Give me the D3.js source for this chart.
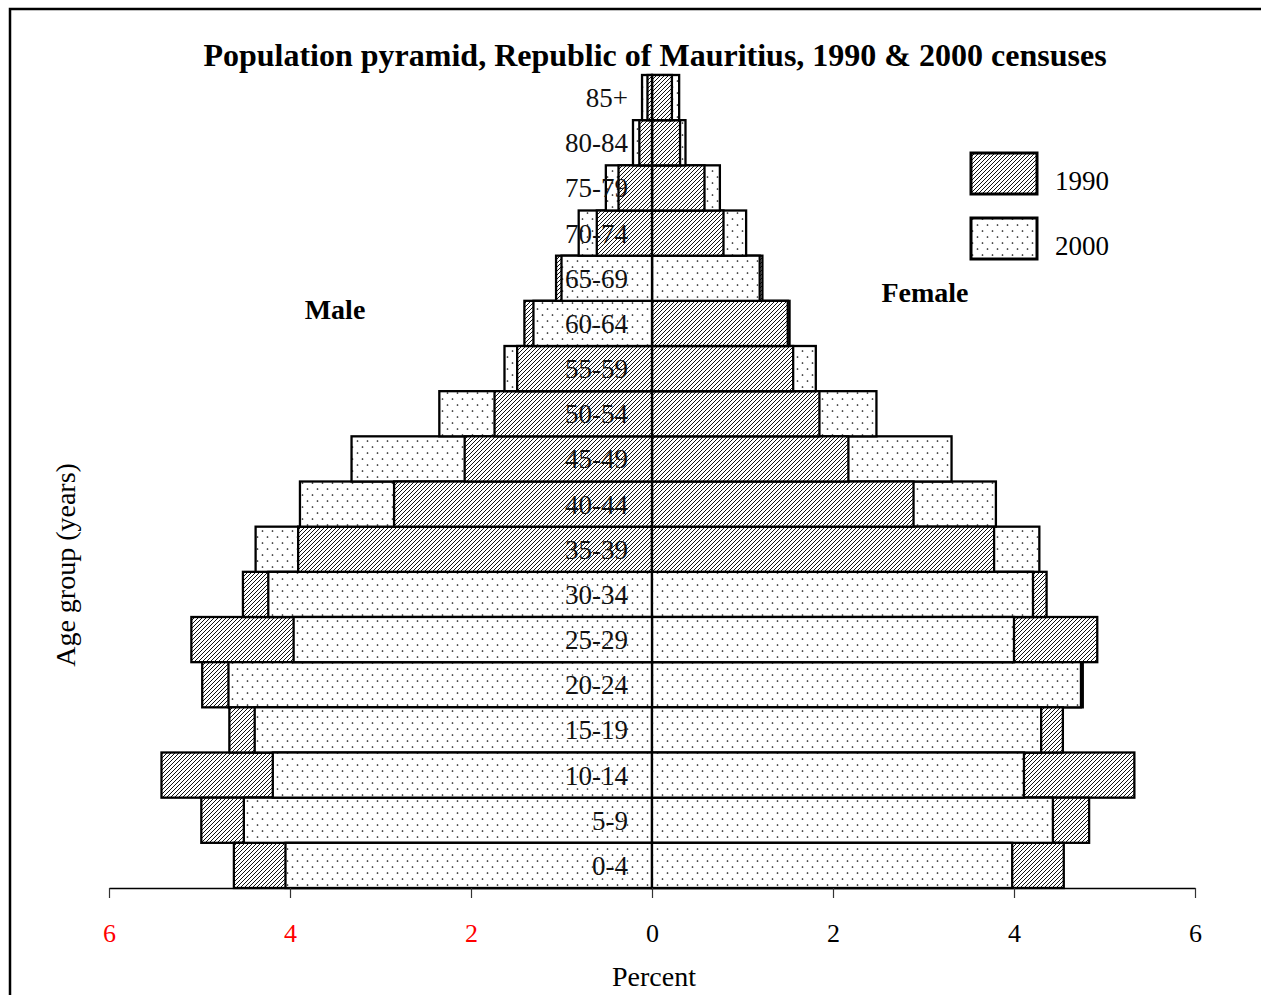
<!DOCTYPE html>
<html>
<head>
<meta charset="utf-8">
<script src="https://cdn.jsdelivr.net/npm/d3@7/dist/d3.min.js"></script>
<style>
  html, body { margin: 0; padding: 0; background: #fff; }
  svg { display: block; font-family: "Liberation Serif", "Times New Roman", serif; }
</style>
</head>
<body>
<svg id="chart" width="1261" height="995"></svg>
<script>
const ages = ["0-4","5-9","10-14","15-19","20-24","25-29","30-34","35-39","40-44","45-49","50-54","55-59","60-64","65-69","70-74","75-79","80-84","85+"];
const male1990   = [4.62,4.98,5.42,4.67,4.97,5.09,4.52,3.91,2.85,2.07,1.74,1.49,1.41,1.06,0.61,0.37,0.14,0.05];
const male2000   = [4.05,4.51,4.19,4.39,4.68,3.96,4.24,4.38,3.89,3.32,2.35,1.63,1.31,1.00,0.81,0.51,0.21,0.11];
const female1990 = [4.55,4.83,5.33,4.54,4.76,4.92,4.36,3.78,2.89,2.17,1.85,1.56,1.50,1.22,0.79,0.58,0.31,0.22];
const female2000 = [3.98,4.43,4.11,4.30,4.74,4.00,4.21,4.28,3.80,3.31,2.48,1.81,1.52,1.19,1.04,0.75,0.37,0.30];
const tickValues = [-6,-4,-2,0,2,4,6];
const years = ["1990","2000"];

const svg = d3.select("#chart");

// frame
svg.append("rect").attr("x",10).attr("y",9).attr("width",1300).attr("height",1100)
  .attr("fill","none").attr("stroke","#000").attr("stroke-width",2.5);

// patterns
const defs = svg.append("defs");
const hatch = defs.append("pattern").attr("id","hatch").attr("patternUnits","userSpaceOnUse")
  .attr("width",4).attr("height",4);
hatch.append("rect").attr("width",4).attr("height",4).attr("fill","#fff");
hatch.append("path").attr("d","M-1,1 l2,-2 M0,4 l4,-4 M3,5 l2,-2")
  .attr("stroke","#111").attr("stroke-width",1);
const dots = defs.append("pattern").attr("id","dots").attr("patternUnits","userSpaceOnUse")
  .attr("width",10).attr("height",12);
dots.append("rect").attr("width",10).attr("height",12).attr("fill","#fff");
dots.append("circle").attr("cx",2.5).attr("cy",3).attr("r",0.85).attr("fill","#111");
dots.append("circle").attr("cx",7.5).attr("cy",9).attr("r",0.85).attr("fill","#111");

const fills = {"1990":"url(#hatch)","2000":"url(#dots)"};

const x = d3.scaleLinear().domain([-6,6]).range([109,1195]);
const y = d3.scaleBand().domain(ages.slice().reverse()).range([75,888]).paddingInner(0);

// build bars
const bars = [];
ages.forEach((a,i)=>{
  bars.push({age:a, side:-1, year:"1990", v:male1990[i]});
  bars.push({age:a, side:-1, year:"2000", v:male2000[i]});
  bars.push({age:a, side: 1, year:"1990", v:female1990[i]});
  bars.push({age:a, side: 1, year:"2000", v:female2000[i]});
});
bars.sort((a,b)=>b.v-a.v);

svg.append("g").selectAll("rect").data(bars).join("rect")
  .attr("x", d => d.side<0 ? x(-d.v) : x(0))
  .attr("width", d => x(d.v) - x(0))
  .attr("y", d => y(d.age))
  .attr("height", y.bandwidth())
  .attr("fill", d => fills[d.year])
  .attr("stroke","#000").attr("stroke-width",2.3);

// age labels
svg.append("g").selectAll("text").data(ages).join("text")
  .attr("x", 628).attr("y", d => y(d) + y.bandwidth()/2)
  .attr("dy","0.35em").attr("text-anchor","end")
  .attr("font-size",27).attr("fill","#111").text(d=>d);

// x axis
const axis = d3.axisBottom(x).tickValues(tickValues).tickFormat(d=>Math.abs(d))
  .tickSize(10).tickSizeOuter(0).tickPadding(26);
const gx = svg.append("g").attr("transform","translate(0,888)").call(axis);
gx.select(".domain").attr("stroke","#000").attr("stroke-width",1.5);
gx.selectAll(".tick line").attr("stroke","#333").attr("stroke-width",1.2);
gx.selectAll(".tick text")
  .attr("font-family","Liberation Serif, serif").attr("font-size",26)
  .attr("fill", d => d<0 ? "#ff0000" : "#000");

// titles
svg.append("text").attr("x",655).attr("y",66).attr("text-anchor","middle")
  .attr("font-size",32).attr("font-weight","bold")
  .text("Population pyramid, Republic of Mauritius, 1990 & 2000 censuses");
svg.append("text").attr("x",654).attr("y",986).attr("text-anchor","middle")
  .attr("font-size",28).text("Percent");
svg.append("text").attr("transform","translate(75,565) rotate(-90)").attr("text-anchor","middle")
  .attr("font-size",28).text("Age group (years)");
svg.append("text").attr("x",335).attr("y",319).attr("text-anchor","middle")
  .attr("font-size",28).attr("font-weight","bold").text("Male");
svg.append("text").attr("x",925).attr("y",302).attr("text-anchor","middle")
  .attr("font-size",28).attr("font-weight","bold").text("Female");

// legend
const legend = svg.append("g");
const leg = d3.scaleBand().domain(years).range([150,280]);
legend.selectAll("rect").data(years).join("rect")
  .attr("x",971).attr("y", d => leg(d)+3).attr("width",66).attr("height",41)
  .attr("fill", d => fills[d]).attr("stroke","#000").attr("stroke-width",3);
legend.selectAll("text").data(years).join("text")
  .attr("x",1055).attr("y", d => leg(d)+40).attr("font-size",27).text(d=>d);
</script>
</body>
</html>
